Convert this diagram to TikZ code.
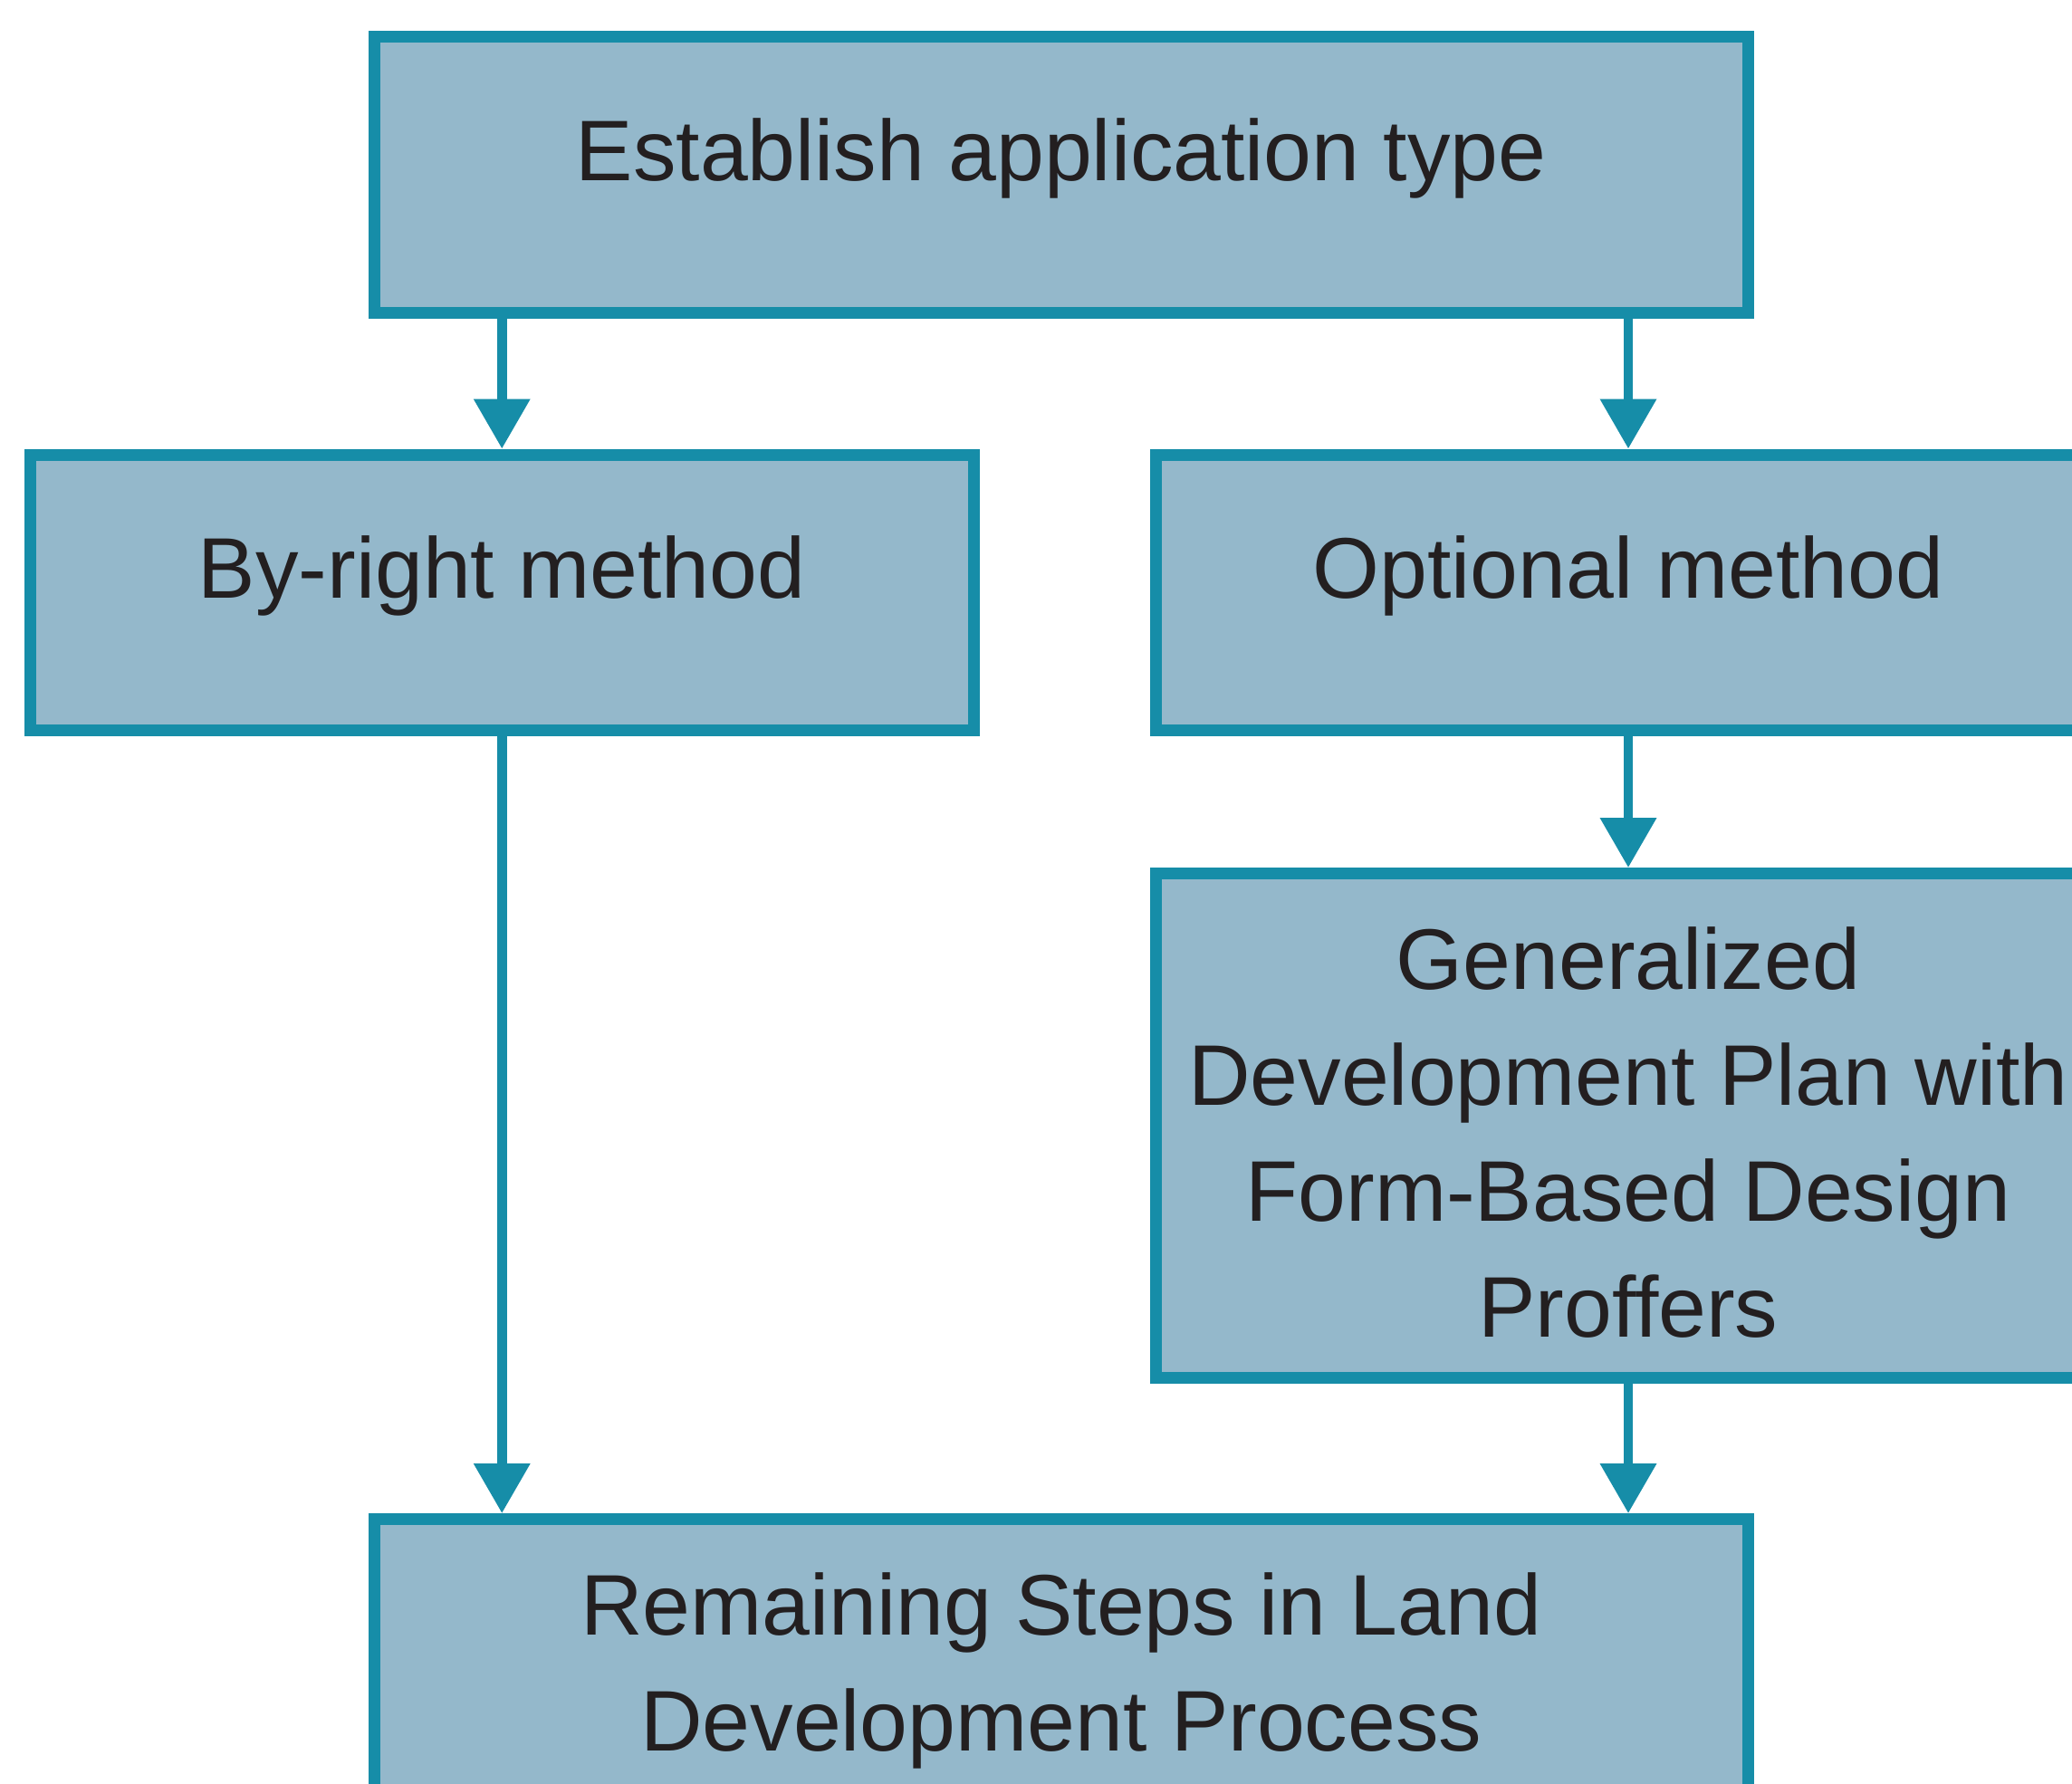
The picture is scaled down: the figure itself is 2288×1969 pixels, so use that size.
\documentclass[tikz,border=0pt]{standalone}
\usepackage{fontspec}
\setmainfont{Liberation Sans}
\usetikzlibrary{arrows.meta}
\definecolor{boxfill}{HTML}{94B8CB}
\definecolor{boxline}{HTML}{168DA8}
\definecolor{txtcol}{HTML}{231F20}
\begin{document}
\begin{tikzpicture}[x=0.3pt,y=-0.3pt,
  stepbox/.style={draw=boxline, fill=boxfill, line width=3.9pt, rectangle, inner sep=0pt},
  widebox/.style={stepbox, minimum width=454.95pt},
  narrowbox/.style={stepbox, minimum width=312.75pt},
  txt/.style={inner sep=0pt, text=txtcol, align=center, anchor=base,
    font=\fontsize{28.5pt}{38.4pt}\selectfont},
  arr/.style={draw=boxline, line width=3.15pt, -{Triangle[width=18pt,length=16.5pt]}}]
\useasboundingbox (0,0) rectangle (2288,1969);
\clip (0,0) rectangle (2288,1969);
\fill[white] (0,0) rectangle (2288,1969);
% boxes
\node[widebox, minimum height=91.3pt] (top) at (1171.75,193) {};
\node[narrowbox, minimum height=91.2pt] (byright) at (554.25,654) {};
\node[narrowbox, minimum height=91.2pt] (optional) at (1798,654) {};
\node[narrowbox, minimum height=167.1pt] (gdp) at (1798,1243) {};
\node[widebox, minimum height=120pt] (remain) at (1171.75,1877.5) {};
% texts (multi-line nodes: base anchor is the last line's baseline)
\node[txt] (ttop) at (1171.75,199) {Establish application type};
\node[txt] (tby) at (554.25,660) {By-right method};
\node[txt] (topt) at (1798,660) {Optional method};
\node[txt] (tgdp) at (1798,1476) {Generalized\\Development Plan with\\Form-Based Design\\Proffers};
\node[txt] (trem) at (1171.75,1933) {Remaining Steps in Land\\Development Process};
% connectors
\draw[arr] (top.south -| byright.north) -- (byright.north);
\draw[arr] (top.south -| optional.north) -- (optional.north);
\draw[arr] (optional.south) -- (gdp.north);
\draw[arr] (byright.south) -- (remain.north -| byright.south);
\draw[arr] (gdp.south) -- (remain.north -| gdp.south);
\end{tikzpicture}
\end{document}
